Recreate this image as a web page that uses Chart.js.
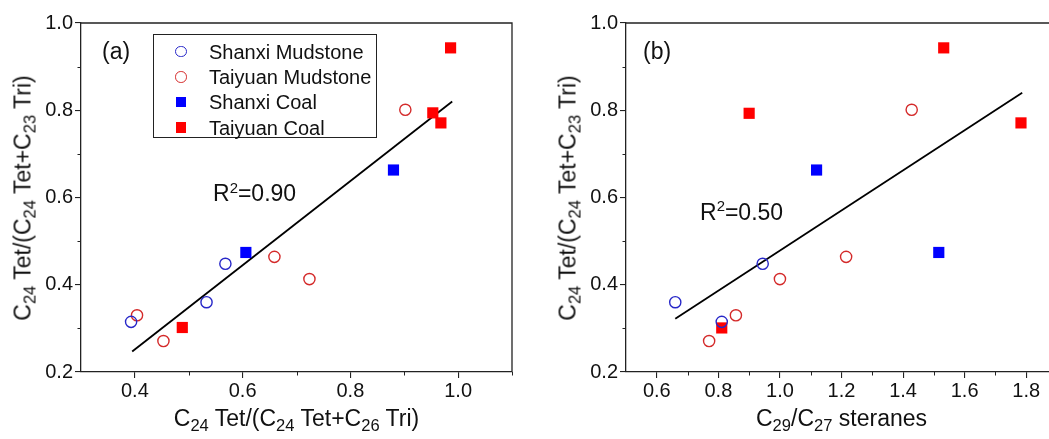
<!DOCTYPE html>
<html><head><meta charset="utf-8">
<script src="https://cdn.jsdelivr.net/npm/chart.js@4/dist/chart.umd.min.js"></script>
<style>
html,body{margin:0;padding:0;background:#fff;overflow:hidden;width:1049px;height:439px;}
#wrap{position:relative;width:1049px;height:439px;overflow:hidden;font-family:"Liberation Sans",Arial,sans-serif;color:#111;}
canvas.cv{position:absolute;top:0;}
.t{position:absolute;white-space:nowrap;line-height:1;}
.s{font-size:0.72em;position:relative;top:0.28em;}
.p{font-size:0.65em;position:relative;top:-0.55em;}
#legend{position:absolute;left:153px;top:34px;width:224px;height:104px;box-sizing:border-box;border:1.4px solid #222;background:#fff;}
.lr{position:absolute;left:0;width:100%;height:20px;}
.lm{position:absolute;left:21px;top:5px;width:11.5px;height:11.5px;box-sizing:border-box;}
.lt{position:absolute;left:55px;top:1px;font-size:20px;line-height:1;white-space:nowrap;}
</style>
</head><body>
<div id="wrap">
<canvas id="ca" class="cv" style="left:0px"></canvas>
<canvas id="cb" class="cv" style="left:529px"></canvas>

<div class="t" style="left:296.5px;top:407px;font-size:23px;transform:translateX(-50%);">C<span class="s">24</span> Tet/(C<span class="s">24</span> Tet+C<span class="s">26</span> Tri)</div>
<div class="t" style="left:841.5px;top:407px;font-size:23px;transform:translateX(-50%);">C<span class="s">29</span>/C<span class="s">27</span> steranes</div>
<div class="t" style="left:23px;top:198px;font-size:23px;transform:translate(-50%,-50%) rotate(-90deg);">C<span class="s">24</span> Tet/(C<span class="s">24</span> Tet+C<span class="s">23</span> Tri)</div>
<div class="t" style="left:567.5px;top:198px;font-size:23px;transform:translate(-50%,-50%) rotate(-90deg);">C<span class="s">24</span> Tet/(C<span class="s">24</span> Tet+C<span class="s">23</span> Tri)</div>

<div class="t" style="left:102px;top:39.5px;font-size:23px;">(a)</div>
<div class="t" style="left:643px;top:39.5px;font-size:23px;">(b)</div>
<div class="t" style="left:213px;top:182px;font-size:23px;">R<span class="p">2</span>=0.90</div>
<div class="t" style="left:700px;top:200.5px;font-size:23px;">R<span class="p">2</span>=0.50</div>

<div id="legend"></div>
</div>
<script>
// ---------- data ----------
const seriesNames = ['Shanxi Mudstone', 'Taiyuan Mudstone', 'Shanxi Coal', 'Taiyuan Coal'];

// Panel (a): x = C24 Tet/(C24 Tet+C26 Tri), y = C24 Tet/(C24 Tet+C23 Tri)
const aShanxiMudX   = [0.393, 0.533, 0.568];
const aShanxiMudY   = [0.315, 0.360, 0.448];
const aTaiyuanMudX  = [0.404, 0.453, 0.659, 0.724, 0.902];
const aTaiyuanMudY  = [0.330, 0.271, 0.464, 0.413, 0.801];
const aShanxiCoalX  = [0.606, 0.880];
const aShanxiCoalY  = [0.474, 0.663];
const aTaiyuanCoalX = [0.488, 0.953, 0.968, 0.986];
const aTaiyuanCoalY = [0.302, 0.794, 0.771, 0.943];
const aFitX = [0.395, 0.989];
const aFitY = [0.247, 0.820];

// Panel (b): x = C29/C27 steranes, y = C24 Tet/(C24 Tet+C23 Tri)
const bShanxiMudX   = [0.660, 0.811, 0.944];
const bShanxiMudY   = [0.360, 0.315, 0.448];
const bTaiyuanMudX  = [0.770, 0.857, 1.000, 1.215, 1.428];
const bTaiyuanMudY  = [0.271, 0.330, 0.413, 0.464, 0.801];
const bShanxiCoalX  = [1.119, 1.516];
const bShanxiCoalY  = [0.663, 0.474];
const bTaiyuanCoalX = [0.811, 0.900, 1.532, 1.783];
const bTaiyuanCoalY = [0.301, 0.793, 0.943, 0.771];
const bFitX = [0.660, 1.787];
const bFitY = [0.322, 0.840];

// ticks
const yTicks  = [0.2, 0.4, 0.6, 0.8, 1.0];
const yMinor  = [0.3, 0.5, 0.7, 0.9];
const aXTicks = [0.4, 0.6, 0.8, 1.0];
const aXMinor = [0.5, 0.7, 0.9, 1.1];
const bXTicks = [0.6, 0.8, 1.0, 1.2, 1.4, 1.6, 1.8];
const bXMinor = [0.7, 0.9, 1.1, 1.3, 1.5, 1.7, 1.9];

// ---------- styling ----------
const FONT = "'Liberation Sans', Arial, sans-serif";
const AX = '#222';
const styles = [
  {pointStyle: 'circle', radius: 5.6, bg: 'rgba(0,0,0,0)', border: '#2727c8', bw: 1.4},
  {pointStyle: 'circle', radius: 5.6, bg: 'rgba(0,0,0,0)', border: '#d42a2a', bw: 1.4},
  {pointStyle: 'rect',   radius: 7.9, bg: '#0000ff', border: '#0000ff', bw: 0},
  {pointStyle: 'rect',   radius: 7.9, bg: '#ff0000', border: '#ff0000', bw: 0}
];

function pts(xs, ys) { return xs.map((x, i) => ({x: x, y: ys[i]})); }

const framePlugin = {
  id: 'frame',
  afterDraw(chart, args, opts) {
    const {ctx, chartArea: a, scales} = chart;
    const x = scales.x, y = scales.y;
    ctx.save();
    ctx.strokeStyle = AX;
    ctx.lineWidth = 1.3;
    ctx.beginPath();
    ctx.moveTo(a.left, a.top); ctx.lineTo(a.right, a.top); ctx.lineTo(a.right, a.bottom);
    ctx.stroke();
    ctx.lineWidth = 1;
    ctx.beginPath();
    opts.xMinor.forEach(v => { const px = Math.round(x.getPixelForValue(v)) + 0.5; ctx.moveTo(px, a.bottom); ctx.lineTo(px, a.bottom + 3.5); });
    opts.yMinor.forEach(v => { const py = Math.round(y.getPixelForValue(v)) + 0.5; ctx.moveTo(a.left, py); ctx.lineTo(a.left - 3.5, py); });
    ctx.stroke();
    ctx.restore();
  }
};

function makeChart(id, cw, sets, fitX, fitY, xr, xTicks, xMinor, yAxisW, padRight) {
  const cv = document.getElementById(id);
  cv.width = cw; cv.height = 439;
  cv.style.width = cw + 'px'; cv.style.height = '439px';
  const datasets = sets.map((s, i) => ({
    label: seriesNames[i],
    data: pts(s[0], s[1]),
    pointStyle: styles[i].pointStyle,
    pointRadius: styles[i].radius,
    pointHoverRadius: styles[i].radius,
    pointBackgroundColor: styles[i].bg,
    pointBorderColor: styles[i].border,
    pointBorderWidth: styles[i].bw,
    backgroundColor: styles[i].bg,
    borderColor: styles[i].border,
    showLine: false,
    order: 1
  }));
  datasets.push({
    label: 'fit',
    data: pts(fitX, fitY),
    showLine: true,
    borderColor: '#000',
    borderWidth: 1.8,
    pointRadius: 0,
    fill: false,
    order: 5
  });
  return new Chart(cv, {
    type: 'scatter',
    data: {datasets: datasets},
    options: {
      responsive: false,
      animation: false,
      devicePixelRatio: 1,
      layout: {padding: {left: 0, top: 23, right: padRight, bottom: 0}},
      plugins: {
        legend: {display: false},
        tooltip: {enabled: false},
        frame: {xMinor: xMinor, yMinor: yMinor}
      },
      scales: {
        x: {
          type: 'linear', min: xr[0], max: xr[1],
          afterBuildTicks: s => { s.ticks = xTicks.map(v => ({value: v})); },
          afterFit: s => { s.height = 67; },
          grid: {display: true, drawOnChartArea: false, drawTicks: true, tickLength: 6, color: AX, lineWidth: 1.1},
          border: {display: true, color: AX, width: 1.3},
          ticks: {font: {family: FONT, size: 20}, color: '#111', padding: 1, maxRotation: 0, autoSkip: false,
                  callback: v => Number(v).toFixed(1)}
        },
        y: {
          type: 'linear', min: 0.2, max: 1.0,
          afterBuildTicks: s => { s.ticks = yTicks.map(v => ({value: v})); },
          afterFit: s => { s.width = yAxisW; },
          grid: {display: true, drawOnChartArea: false, drawTicks: true, tickLength: 6, color: AX, lineWidth: 1.1},
          border: {display: true, color: AX, width: 1.3},
          ticks: {font: {family: FONT, size: 20}, color: '#111', padding: 2, autoSkip: false,
                  callback: v => Number(v).toFixed(1)}
        }
      }
    },
    plugins: [framePlugin]
  });
}

makeChart('ca', 525,
  [[aShanxiMudX, aShanxiMudY], [aTaiyuanMudX, aTaiyuanMudY], [aShanxiCoalX, aShanxiCoalY], [aTaiyuanCoalX, aTaiyuanCoalY]],
  aFitX, aFitY, [0.3, 1.1], aXTicks, aXMinor, 81, 13);

makeChart('cb', 540,
  [[bShanxiMudX, bShanxiMudY], [bTaiyuanMudX, bTaiyuanMudY], [bShanxiCoalX, bShanxiCoalY], [bTaiyuanCoalX, bTaiyuanCoalY]],
  bFitX, bFitY, [0.5, 1.9], bXTicks, bXMinor, 97, 12);

// legend (HTML, built from series names and styles)
const lg = document.getElementById('legend');
const rowTops = [5.5, 31, 56, 81.5];
seriesNames.forEach((n, i) => {
  const r = document.createElement('div');
  r.className = 'lr';
  r.style.top = rowTops[i] + 'px';
  const m = document.createElement('div');
  m.className = 'lm';
  if (styles[i].pointStyle === 'circle') {
    m.style.border = '1.3px solid ' + styles[i].border;
    m.style.borderRadius = '50%';
  } else {
    m.style.background = styles[i].bg;
    m.style.width = '10.5px'; m.style.height = '10.5px'; m.style.left = '21.5px'; m.style.top = '5.5px';
  }
  const t = document.createElement('div');
  t.className = 'lt';
  t.textContent = n;
  r.appendChild(m); r.appendChild(t);
  lg.appendChild(r);
});
</script>
</body></html>
